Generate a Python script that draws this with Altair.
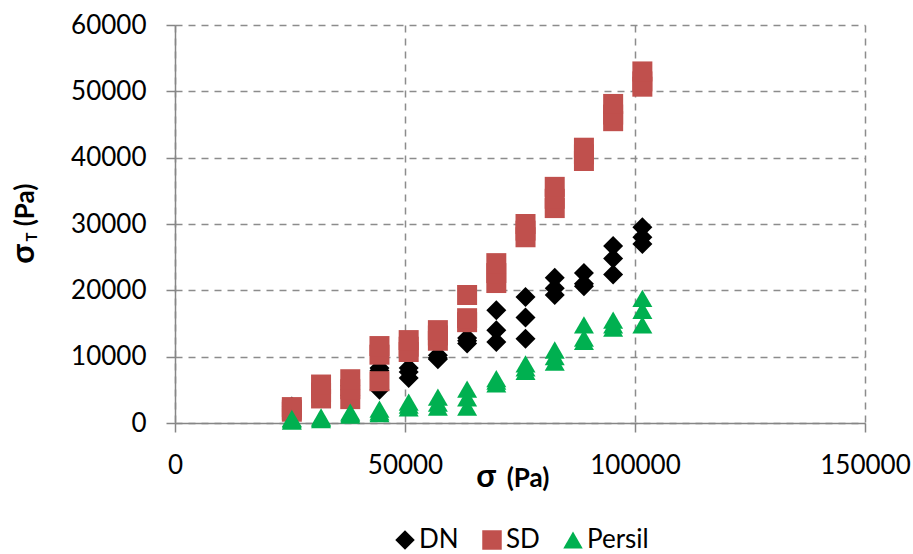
import altair as alt
import pandas as pd

# Normal stress levels (Pa) at which each powder was sheared
sigma_levels = [25400, 31750, 38100, 44450, 50800, 57150, 63500,
                69850, 76200, 82550, 88900, 95250, 101600]

# Shear stress readings (Pa), three repeats per normal stress level
dn_values = [
    [1800, 2100, 2500], [3900, 4400, 5000], [4200, 5000, 5600],
    [5000, 7900, 8300], [6800, 7700, 8300], [9600, 9800, 10200],
    [12000, 12400, 12800], [12200, 14000, 17000], [12700, 15900, 19000],
    [19300, 20300, 21900], [20600, 21000, 22600], [22400, 24800, 26700],
    [27000, 28000, 29500],
]
sd_values = [
    [1700, 2000, 2400], [3700, 4600, 5800], [3600, 5100, 6600],
    [6300, 10300, 11600], [10700, 11500, 12500], [12400, 13200, 14000],
    [15200, 15800, 19300], [21100, 22600, 24100], [28000, 29000, 30000],
    [32400, 33800, 35600], [39500, 40500, 41500], [45500, 46500, 48100],
    [50700, 51500, 53000],
]
persil_values = [
    [300, 500, 700], [500, 700, 900], [1200, 1400, 1650],
    [1400, 1700, 2100], [2300, 2700, 3150], [2400, 3000, 3900],
    [2400, 3800, 5100], [5900, 6300, 6700], [7800, 8300, 8900],
    [9200, 10000, 11000], [12300, 12800, 14800], [14300, 14800, 15500],
    [14800, 17000, 18800],
]

series_names = ["DN", "SD", "Persil"]
series_colors = ["#000000", "#C0504D", "#00B050"]
series_shapes = ["diamond", "square", "triangle-up"]

x_ticks = [0, 50000, 100000, 150000]
y_ticks = [0, 10000, 20000, 30000, 40000, 50000, 60000]

rows = []
for name, table in zip(series_names, [dn_values, sd_values, persil_values]):
    for s, repeats in zip(sigma_levels, table):
        for v in repeats:
            rows.append({"sigma": s, "sigma_t": v, "series": name})
df = pd.DataFrame(rows)

FONT = "Lato"
GRID = "#8c8c8c"
AXIS = "#868686"

legend = alt.Legend(
    title=None, orient="none", direction="horizontal",
    legendX=217, legendY=502,
)

points = alt.Chart(df).mark_point(
    filled=True, size=400, opacity=1, strokeWidth=0
).encode(
    x=alt.X(
        "sigma:Q",
        scale=alt.Scale(domain=[0, 150000], nice=False),
        axis=alt.Axis(values=x_ticks, format="d", title=None, labelPadding=20),
    ),
    y=alt.Y(
        "sigma_t:Q",
        scale=alt.Scale(domain=[0, 60000], nice=False),
        axis=alt.Axis(values=y_ticks, format="d", title=None, labelPadding=20),
    ),
    color=alt.Color(
        "series:N",
        scale=alt.Scale(domain=series_names, range=series_colors),
        legend=legend,
    ),
    shape=alt.Shape(
        "series:N",
        scale=alt.Scale(domain=series_names, range=series_shapes),
        legend=legend,
    ),
)


def title_piece(label, x, y, size, angle=0):
    # One piece of an axis title, so that σ and its subscript can be sized apart
    return alt.Chart(pd.DataFrame({"t": [label]})).mark_text(
        angle=angle, font=FONT, fontWeight="bold", fontSize=size,
        align="center", baseline="alphabetic", color="#000000",
    ).encode(text="t:N", x=alt.value(x), y=alt.value(y))


chart = alt.layer(
    points,
    # horizontal axis title: σ (Pa)
    title_piece("σ", 311, 462, 32),
    title_piece("(Pa)", 353, 462, 26),
    # vertical axis title: σT (Pa), read bottom to top
    title_piece("σ", -141, 229, 32, angle=270),
    title_piece("T", -138, 212, 15, angle=270),
    title_piece("(Pa)", -141, 180, 26, angle=270),
).properties(
    width=690, height=398,
    autosize=alt.AutoSizeParams(type="none"),
    padding={"left": 175, "top": 25, "right": 48, "bottom": 131},
).configure_view(
    stroke=None
).configure_axis(
    labelFont=FONT, labelFontSize=26, labelColor="#000000", labelFlush=False,
    domainColor=AXIS, domainWidth=1.5,
    tickColor=AXIS, tickWidth=1.5, tickSize=9,
    grid=True, gridColor=GRID, gridWidth=1.5, gridDash=[7, 6],
).configure_legend(
    labelFont=FONT, labelFontSize=26, labelColor="#000000",
    symbolSize=380, symbolStrokeWidth=0, symbolOpacity=1,
    labelOffset=1, columnPadding=20, padding=0,
)

chart.save("out.html", embed_options={"renderer": "svg", "actions": False})
